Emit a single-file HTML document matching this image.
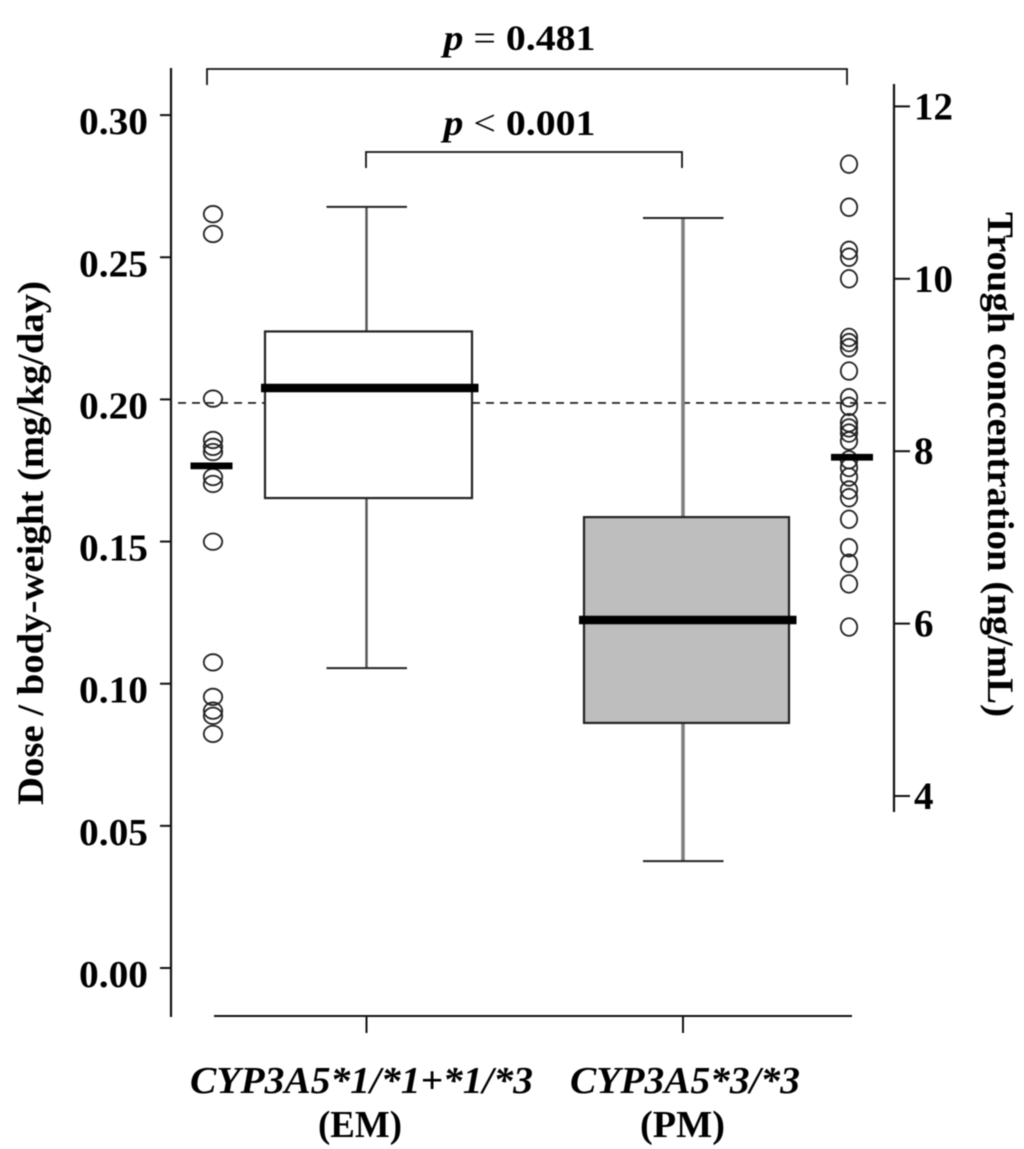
<!DOCTYPE html>
<html>
<head>
<meta charset="utf-8">
<title>Dose and trough concentration by CYP3A5 genotype</title>
<style>
html,body{margin:0;padding:0;background:#fff;}
svg{display:block;filter:blur(0.4px);}
text{font-family:"Liberation Serif",serif;font-weight:bold;fill:#000;}
</style>
</head>
<body>
<svg id="chart" width="1024" height="1149" viewBox="0 0 1024 1149" xmlns="http://www.w3.org/2000/svg">
  <text transform="translate(43,543) rotate(-90)" text-anchor="middle" font-size="37" textLength="524" lengthAdjust="spacingAndGlyphs">Dose / body-weight  (mg/kg/day)</text>
  <text transform="translate(988,464.5) rotate(90)" text-anchor="middle" font-size="37" textLength="505" lengthAdjust="spacingAndGlyphs">Trough concentration (ng/mL)</text>
  <text x="443.5" y="50" font-size="36" textLength="152" lengthAdjust="spacingAndGlyphs"><tspan font-style="italic">p</tspan> <tspan font-weight="normal">=</tspan> 0.481</text>
  <text x="443.5" y="135" font-size="36" textLength="152" lengthAdjust="spacingAndGlyphs"><tspan font-style="italic">p</tspan> <tspan font-weight="normal">&lt;</tspan> 0.001</text>
  <text x="190" y="1093" font-size="38" font-style="italic" textLength="343" lengthAdjust="spacingAndGlyphs">CYP3A5*1/*1+*1/*3</text>
  <text x="318" y="1137" font-size="38" textLength="84" lengthAdjust="spacingAndGlyphs">(EM)</text>
  <text x="570" y="1093" font-size="38" font-style="italic" textLength="230" lengthAdjust="spacingAndGlyphs">CYP3A5*3/*3</text>
  <text x="640" y="1137" font-size="38" textLength="85" lengthAdjust="spacingAndGlyphs">(PM)</text>
</svg>
<script>
const doseTicks = [0.00, 0.05, 0.10, 0.15, 0.20, 0.25, 0.30];
const doseTickLabels = ['0.00', '0.05', '0.10', '0.15', '0.20', '0.25', '0.30'];
const troughTicks = [4, 6, 8, 10, 12];
const troughTickLabels = ['4', '6', '8', '10', '12'];
const categories = ['EM', 'PM'];
const whiskerLow = [0.1055, 0.0376];
const boxQ1 = [0.1653, 0.0862];
const boxMedian = [0.2040, 0.1224];
const boxQ3 = [0.2239, 0.1586];
const whiskerHigh = [0.2677, 0.2638];
const troughEM = [10.75, 10.52, 8.61, 8.13, 8.05, 7.99, 7.70, 7.62, 6.95, 5.55, 5.15, 4.99, 4.93, 4.72];
const troughPM = [11.33, 10.83, 10.33, 10.25, 10.00, 9.32, 9.26, 9.20, 8.93, 8.62, 8.52, 8.33, 8.27, 8.21, 8.12, 7.90, 7.81, 7.70, 7.55, 7.46, 7.21, 6.88, 6.70, 6.46, 5.96];
const troughMeans = [7.83, 7.93];
const targetTrough = 8.56;

const svg = document.getElementById('chart');
const NS = 'http://www.w3.org/2000/svg';
const yDose = v => 968 - v * 2843;
const yTrough = v => 796 - (v - 4) * 86.2;
const xBox = i => [366.5, 683][i];
const xBoxCenter = i => [368.5, 686.5][i];
const xPoints = i => [213, 849][i];

function shape(tag, attrs) {
  const el = document.createElementNS(NS, tag);
  for (const k in attrs) el.setAttribute(k, attrs[k]);
  svg.appendChild(el);
  return el;
}
function seg(x1, y1, x2, y2, color, width) {
  return shape('line', {x1: x1, y1: y1, x2: x2, y2: y2, stroke: color, 'stroke-width': width});
}
let el;

// left axis
el = seg(171, 68, 171, 1017, '#111', 2.2);


doseTicks.forEach((v, i) => {
  const t = seg(160, yDose(v), 171, yDose(v), '#111', 2);
  
  
  const lab = shape('text', {x: 79, y: yDose(v) + 19, 'font-size': 38, textLength: 69, lengthAdjust: 'spacingAndGlyphs'});
  lab.textContent = doseTickLabels[i];
  
  
});

// right axis
el = seg(894, 84, 894, 812, '#111', 2.2);


troughTicks.forEach((v, i) => {
  const t = seg(894, yTrough(v), 910, yTrough(v), '#111', 2);
  
  
  const lab = shape('text', {x: 914, y: yTrough(v) + 13, 'font-size': 39});
  lab.textContent = troughTickLabels[i];
  
  
});

// x axis
el = seg(214, 1016, 852, 1016, '#111', 2);


categories.forEach((c, i) => {
  const t = seg(xBox(i), 1016, xBox(i), 1033, '#111', 2);
  
  
});

// dashed target line
el = seg(178, yTrough(targetTrough), 887, yTrough(targetTrough), '#111', 1.7);
el.setAttribute('stroke-dasharray', '8 6');



// brackets
el = shape('path', {d: 'M207 85V69H847V85', fill: 'none', stroke: '#111', 'stroke-width': 1.8});


el = shape('path', {d: 'M366 168V152H682V168', fill: 'none', stroke: '#111', 'stroke-width': 1.8});



// box plots
const boxFills = ['#ffffff', '#bebebe'];
const whiskerColors = ['#555', '#808080'];
const whiskerWidths = [2.4, 3.6];
categories.forEach((c, i) => {
  const cx = xBox(i);
  const bx = xBoxCenter(i);
  const halfBox = i === 0 ? 103.5 : 102.5;
  const w1 = seg(cx, yDose(whiskerHigh[i]), cx, yDose(boxQ3[i]), whiskerColors[i], whiskerWidths[i]);
  
  
  const w2 = seg(cx, yDose(boxQ1[i]), cx, yDose(whiskerLow[i]), whiskerColors[i], whiskerWidths[i]);
  
  
  const c1 = seg(cx - 40, yDose(whiskerHigh[i]), cx + 40.5, yDose(whiskerHigh[i]), '#222', 2);
  
  
  const c2 = seg(cx - 40, yDose(whiskerLow[i]), cx + 40.5, yDose(whiskerLow[i]), '#222', 2);
  
  
  const r = shape('rect', {x: bx - halfBox, y: yDose(boxQ3[i]), width: halfBox * 2, height: yDose(boxQ1[i]) - yDose(boxQ3[i]), fill: boxFills[i], stroke: '#222', 'stroke-width': 2.2});
  
  
  const m = seg(bx - 107.5, yDose(boxMedian[i]), bx + 110, yDose(boxMedian[i]), '#000', 8.5);
  
  
});

// trough points
const pointRx = [9.2, 8.2];
const pointRy = [8.2, 8.8];
[troughEM, troughPM].forEach((series, i) => {
  series.forEach(v => {
    const p = shape('ellipse', {cx: xPoints(i), cy: yTrough(v), rx: pointRx[i], ry: pointRy[i], fill: 'none', stroke: '#222', 'stroke-width': 1.8});
    
    
  });
  const mx = i === 0 ? 211.5 : 852;
  const b = seg(mx - 21, yTrough(troughMeans[i]), mx + 21, yTrough(troughMeans[i]), '#000', 6.7);
  
  
});
</script>
</body>
</html>
